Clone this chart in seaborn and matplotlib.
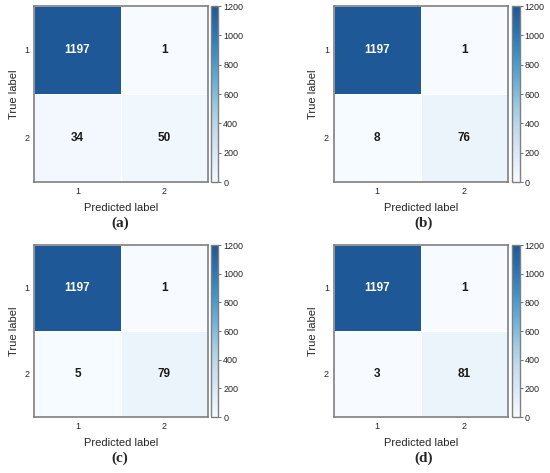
import numpy as np
import matplotlib
matplotlib.use("Agg")
import matplotlib.pyplot as plt
from matplotlib.colors import LinearSegmentedColormap
import seaborn as sns

# Confusion matrices for the four models
class_labels = ["1", "2"]
cm_a = [[1197, 1], [34, 50]]
cm_b = [[1197, 1], [8, 76]]
cm_c = [[1197, 1], [5, 79]]
cm_d = [[1197, 1], [3, 81]]
panel_tags = ["(a)", "(b)", "(c)", "(d)"]
cbar_ticks = [0, 200, 400, 600, 800, 1000, 1200]

sns.set_style("white")
plt.rcParams["font.family"] = ["Liberation Sans", "DejaVu Sans"]

# softer Blues, the top end is a muted dark blue
cmap = LinearSegmentedColormap.from_list(
    "blues_soft",
    ["#f7fbff", "#deebf7", "#c6dbef", "#9ecae1", "#6baed6", "#4292c6", "#2d72b0", "#1f5896"])

fig = plt.figure(figsize=(5.5, 4.73), dpi=100)

# [heatmap rect], [colorbar rect], (tag x, tag y)
layout = [
    ([0.062, 0.615, 0.316, 0.372], [0.384, 0.615, 0.013, 0.372], (0.219, 0.529)),
    ([0.607, 0.615, 0.316, 0.372], [0.931, 0.615, 0.014, 0.372], (0.771, 0.529)),
    ([0.062, 0.118, 0.316, 0.364], [0.384, 0.118, 0.013, 0.364], (0.217, 0.032)),
    ([0.607, 0.118, 0.316, 0.364], [0.931, 0.118, 0.014, 0.364], (0.771, 0.032)),
]

for cm, tag, (rect, crect, tpos) in zip([cm_a, cm_b, cm_c, cm_d], panel_tags, layout):
    ax = fig.add_axes(rect)
    cax = fig.add_axes(crect)
    cm = np.array(cm)
    sns.heatmap(cm, ax=ax, cbar_ax=cax, cmap=cmap, vmin=0, vmax=1200,
                annot=False, linewidths=0.6, linecolor="white",
                xticklabels=class_labels, yticklabels=class_labels,
                cbar_kws={"ticks": cbar_ticks})

    # Cell counts
    for i in range(cm.shape[0]):
        for j in range(cm.shape[1]):
            color = "white" if cm[i, j] > 600 else "#1a1a1a"
            ax.text(j + 0.5, i + 0.5, str(cm[i, j]), ha="center", va="center",
                    fontsize=8.5, fontweight="bold", color=color)

    ax.set_xlabel("Predicted label", fontsize=8, labelpad=5)
    ax.set_ylabel("True label", fontsize=8, labelpad=4)
    ax.tick_params(axis="both", length=0, labelsize=6.5, pad=3.5)
    ax.set_yticklabels(class_labels, rotation=0)
    for s in ax.spines.values():
        s.set_visible(True)
        s.set_color("#7f7f7f")
        s.set_linewidth(1.2)

    cbar = ax.collections[0].colorbar
    cax.tick_params(labelsize=6.5, length=2, width=0.6, color="#555555", pad=1.5)
    cbar.outline.set_visible(True)
    cbar.outline.set_edgecolor("#7f7f7f")
    cbar.outline.set_linewidth(1.0)

    fig.text(tpos[0], tpos[1], tag, ha="center", va="center", fontsize=11,
             family=["Liberation Serif", "DejaVu Serif"], fontweight="bold")

fig.savefig("out.png", dpi=100)
